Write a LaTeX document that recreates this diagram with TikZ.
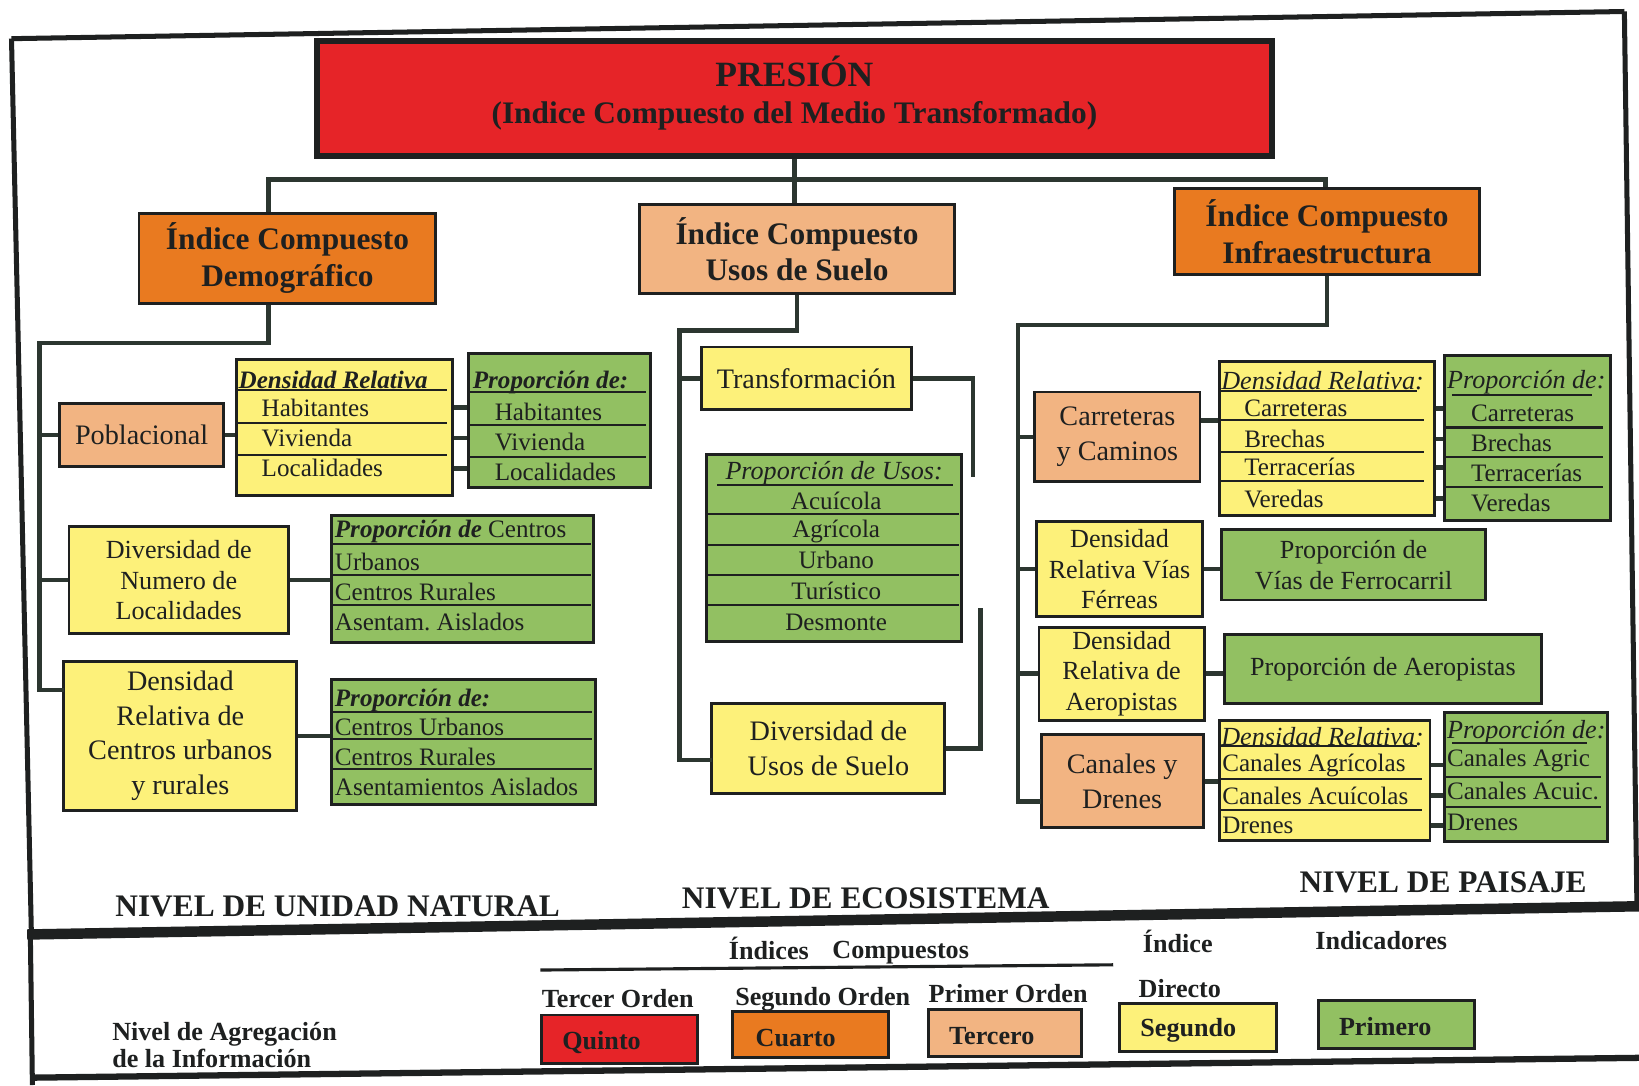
\documentclass[tikz,border=0pt]{standalone}
\usepackage{fontspec}
\setmainfont{Liberation Serif}
\usetikzlibrary{calc}
\frenchspacing

\definecolor{cRed}{RGB}{230,36,40}
\definecolor{cOrange}{RGB}{233,122,32}
\definecolor{cPeach}{RGB}{242,180,130}
\definecolor{cYellow}{RGB}{253,241,122}
\definecolor{cGreen}{RGB}{146,192,98}
\definecolor{cInk}{RGB}{30,32,32}
\definecolor{cWire}{RGB}{44,54,48}

\newcommand\fs[2]{\fontsize{#1}{#2}\selectfont}
% box given by its corners: style, name, x1, y1, x2, y2, text
\newcommand\bx[7]{%
  \node[#1, minimum width={(#5-#3)*0.5pt}, minimum height={(#6-#4)*0.5pt}]
    (#2) at ({(#3+#5)/2},{(#4+#6)/2}) {#7};}

\tikzset{
  box/.style={draw=cInk, line width=1.4pt, align=center, inner sep=0pt, text=cInk},
  hd/.style={font=\fs{15}{17.5}\bfseries},
  bd/.style={font=\fs{12.5}{14.5}},
  bdl/.style={font=\fs{13.5}{16.5}},
  wire/.style={draw=cWire, line width=2.2pt},
  rule/.style={draw=cInk, line width=1pt},
  cell/.style={anchor=west, inner sep=0pt, font=\fs{12}{14}, text=cInk},
  bihead/.style={cell, font=\fs{12}{14}\bfseries\itshape},
  ihead/.style={cell, font=\fs{12.5}{14}\itshape},
  frame/.style={draw=cInk, line width=2.4pt},
  lvl/.style={anchor=base west, inner sep=0pt, font=\fs{15}{17}\bfseries, text=cInk},
  leg/.style={anchor=base west, inner sep=0pt, font=\fs{12.5}{14}\bfseries, text=cInk},
}

\begin{document}
\begin{tikzpicture}[x=0.5pt, y=-0.5pt]
\useasboundingbox (0,0) rectangle (1568,1038);
\fill[white] (0,0) rectangle (1568,1038);

% ---------- outer frame ----------
\draw[frame] (11,37) -- (1554,11);
\draw[frame] (11,37) -- (30,892);
\draw[frame] (1554,11) -- (1566,866);
\draw[draw=cInk, line width=5pt] (26,894) -- (1568,867);
\draw[frame] (29,892) -- (31,1038);
\draw[draw=cInk, line width=3pt] (29,1031) -- (1568,1012);

% ---------- top level ----------
\bx{box, fill=cRed, line width=3pt}{pres}{303}{39}{1217}{149}{}
\node[hd, align=center, inner sep=0pt, text=cInk] (presT) at ($(pres.center)+(0,-5)$)
   {{\fs{17}{17.5}PRESIÓN}\\(Indice Compuesto del Medio Transformado)};
\bx{box, fill=cOrange, hd}{demo}{133}{204}{417}{290}{Índice Compuesto\\Demográfico}
\bx{box, fill=cPeach, hd}{usos}{612}{196}{913}{281}{Índice Compuesto\\Usos de Suelo}
\bx{box, fill=cOrange, hd}{infra}{1124}{180}{1415}{263}{Índice Compuesto\\Infraestructura}

\coordinate (barR) at (1268,172);
\draw[wire] (pres.south) -- (pres.south |- usos.north);
\draw[wire] ($(demo.north)+(-18,0)$) |- (barR) -- (barR |- infra.north);

% ---------- demographic branch ----------
\bx{box, fill=cPeach, bdl}{pob}{57}{386}{214}{446}{Poblacional}

\bx{box, fill=cYellow}{dr1}{226}{344}{433}{474}{}
\node[bihead] (dr1h) at (228,363) {Densidad Relativa};
\draw[rule] (226,373) -- (428,373);
\draw[rule] (226,405) -- (428,405);
\draw[rule] (226,435) -- (428,435);
\node[cell] (r1a) at (250,390) {Habitantes};
\node[cell] (r1b) at (250,419) {Vivienda};
\node[cell] (r1c) at (250,448) {Localidades};

\bx{box, fill=cGreen}{pd1}{448}{338}{622}{466}{}
\node[bihead] (pd1h) at (452,366) {Proporción de:};
\draw[rule] (448,375) -- (618,375);
\draw[rule] (448,406.5) -- (618,406.5);
\draw[rule] (448,437) -- (618,437);
\node[cell] at (473,394) {Habitantes};
\node[cell] at (473,423) {Vivienda};
\node[cell] at (473,451) {Localidades};

\bx{box, fill=cYellow, bd}{divnum}{66}{504}{276}{606}{Diversidad de\\Numero de\\Localidades}

\bx{box, fill=cGreen}{pc2}{317}{493}{568}{615}{}
\node[cell] (pc2h) at (320,508) {{\bfseries\itshape Proporción de} Centros};
\draw[rule] (317,520) -- (565,520);
\draw[rule] (317,550) -- (565,550);
\draw[rule] (317,579) -- (565,579);
\node[cell] at (320,538) {Urbanos};
\node[cell] at (320,566) {Centros Rurales};
\node[cell] at (320,595) {Asentam. Aislados};

\bx{box, fill=cYellow, bdl}{dencen}{61}{633}{284}{775}{Densidad\\Relativa de\\Centros urbanos\\y rurales}

\bx{box, fill=cGreen}{pc3}{317}{650}{570}{770}{}
\node[bihead] (pc3h) at (320,670) {Proporción de:};
\draw[rule] (317,681) -- (566,681);
\draw[rule] (317,707) -- (566,707);
\draw[rule] (317,736) -- (566,736);
\node[cell] at (320,695) {Centros Urbanos};
\node[cell] at (320,724) {Centros Rurales};
\node[cell] at (320,753) {Asentamientos Aislados};

\coordinate (tDL) at (38,328);
\coordinate (dcIn) at (61,660);
\draw[wire] ($(demo.south)+(-18,0)$) |- (tDL) |- (dcIn);
\draw[wire] (tDL |- pob.west) -- (pob.west);
\draw[wire] (tDL |- divnum.west) -- (divnum.west);
\draw[wire] (pob.east) -- (dr1.west |- pob.east);
\foreach \r in {r1a,r1b,r1c} \draw[wire] (dr1.east |- \r) -- (pd1.west |- \r);
\draw[wire] (divnum.east) -- (pc2.west |- divnum.east);
\draw[wire] (dencen.east) -- (pc3.west |- dencen.east);

% ---------- land-use branch ----------
\bx{box, fill=cYellow, bdl}{transf}{671}{332}{872}{392}{Transformación}

\bx{box, fill=cGreen}{pu}{676}{435}{920}{614}{}
\node[ihead, anchor=center] (puh) at (798,453) {Proporción de Usos:};
\draw[rule] (686,464) -- (912,464);
\draw[rule] (676,492) -- (917,492);
\draw[rule] (676,521) -- (917,521);
\draw[rule] (676,550) -- (917,550);
\draw[rule] (676,579) -- (917,579);
\node[cell, anchor=center] at (800,479) {Acuícola};
\node[cell, anchor=center] at (800,508) {Agrícola};
\node[cell, anchor=center] at (800,536) {Urbano};
\node[cell, anchor=center] at (800,565) {Turístico};
\node[cell, anchor=center] at (800,595) {Desmonte};

\bx{box, fill=cYellow, bdl}{divusos}{681}{673}{904}{759}{Diversidad de\\Usos de Suelo}

\coordinate (tU) at (650,316);
\coordinate (duIn) at (681,727);
\coordinate (tfEnd) at (931,456);
\coordinate (duEnd) at (938,582);
\draw[wire] (usos.south) |- (tU) |- (duIn);
\draw[wire] (tU |- transf.west) -- (transf.west);
\draw[wire] (transf.east) -| (tfEnd);
\draw[wire] (divusos.east) -| (duEnd);

% ---------- infrastructure branch ----------
\bx{box, fill=cPeach, bdl}{carr}{990}{375}{1148}{461}{Carreteras\\y Caminos}

\bx{box, fill=cYellow}{dr4}{1167}{346}{1372}{493}{}
\node[ihead] (dr4h) at (1168,364) {Densidad Relativa:};
\draw[rule] (1167,374) -- (1356,374);
\draw[rule] (1167,402) -- (1362,402);
\draw[rule] (1167,432) -- (1362,432);
\draw[rule] (1167,460) -- (1362,460);
\node[cell] (r4a) at (1190,391) {Carreteras};
\node[cell] (r4b) at (1190,420) {Brechas};
\node[cell] (r4c) at (1190,447) {Terracerías};
\node[cell] (r4d) at (1190,477) {Veredas};

\bx{box, fill=cGreen}{pd4}{1382}{340}{1541}{498}{}
\node[ihead] (pd4h) at (1384,366) {Proporción de:};
\draw[rule] (1389,378) -- (1523,378);
\draw[rule] (1382,409) -- (1534,409);
\draw[rule] (1382,437) -- (1534,437);
\draw[rule] (1382,466) -- (1534,466);
\node[cell] at (1407,395) {Carreteras};
\node[cell] at (1407,424) {Brechas};
\node[cell] at (1407,452) {Terracerías};
\node[cell] at (1407,481) {Veredas};

\bx{box, fill=cYellow, bd}{dvf}{992}{499}{1150}{590}{Densidad\\Relativa Vías\\Férreas}
\bx{box, fill=cGreen, bd}{pvf}{1169}{507}{1421}{574}{Proporción de\\Vías de Ferrocarril}
\bx{box, fill=cYellow, bd}{daer}{994}{600}{1152}{689}{Densidad\\Relativa de\\Aeropistas}
\bx{box, fill=cGreen, bd}{paer}{1171}{607}{1475}{673}{Proporción de Aeropistas}
\bx{box, fill=cPeach, bdl}{cand}{996}{703}{1151}{792}{Canales y\\Drenes}

\bx{box, fill=cYellow}{dr5}{1167}{689}{1368}{804}{}
\node[ihead] (dr5h) at (1168,705) {Densidad Relativa:};
\draw[rule] (1167,714) -- (1356,714);
\draw[rule] (1167,745) -- (1360,745);
\draw[rule] (1167,775) -- (1360,775);
\node[cell] (r5a) at (1169,732) {Canales Agrícolas};
\node[cell] (r5b) at (1169,761) {Canales Acuícolas};
\node[cell] (r5c) at (1169,790) {Drenes};

\bx{box, fill=cGreen}{pd5}{1382}{682}{1538}{805}{}
\node[ihead] (pd5h) at (1384,700) {Proporción de:};
\draw[rule] (1389,711) -- (1518,711);
\draw[rule] (1382,743) -- (1532,743);
\draw[rule] (1382,772) -- (1532,772);
\node[cell] at (1384,728) {Canales Agric};
\node[cell] at (1384,757) {Canales Acuic.};
\node[cell] at (1384,787) {Drenes};

\coordinate (tI) at (974,311);
\coordinate (cdIn) at (996,767);
\draw[wire] (infra.south) |- (tI) |- (cdIn);
\draw[wire] (tI |- carr.west) -- (carr.west);
\draw[wire] (tI |- dvf.west) -- (dvf.west);
\draw[wire] (tI |- daer.west) -- (daer.west);
\coordinate (c4) at ([yshift=8pt]carr.east);
\draw[wire] (c4) -- (c4 -| dr4.west);
\foreach \r in {r4a,r4b,r4c,r4d} \draw[wire] (dr4.east |- \r) -- (pd4.west |- \r);
\draw[wire] (dvf.east) -- (pvf.west |- dvf.east);
\draw[wire] (daer.east) -- (paer.west |- daer.east);
\draw[wire] (cand.east) -- (dr5.west |- cand.east);
\foreach \r in {r5a,r5b,r5c} \draw[wire] (dr5.east |- \r) -- (pd5.west |- \r);

% ---------- level labels ----------
\node[lvl] (lvUN) at (110,877) {NIVEL DE UNIDAD NATURAL};
\node[lvl] (lvEC) at (652,869) {NIVEL DE ECOSISTEMA};
\node[lvl] (lvPA) at (1243,854) {NIVEL DE PAISAJE};

% ---------- legend ----------
\node[leg] (lgA) at (697,918) {Índices};
\node[leg] (lgB) at (796,917) {Compuestos};
\draw[draw=cInk, line width=1.5pt] (517,928) -- (1065,923);
\node[leg] (lgC) at (1093,911) {Índice};
\node[leg] (lgD) at (1258,908) {Indicadores};
\node[leg] (lgE) at (518,964) {Tercer Orden};
\node[leg] (lgF) at (703,962) {Segundo Orden};
\node[leg] (lgG) at (888,959) {Primer Orden};
\node[leg] (lgH) at (1089,954) {Directo};
\node[leg] (lgI) at (107,995) {Nivel de Agregación};
\node[leg] (lgJ) at (107,1021) {de la Información};

\bx{box, fill=cRed}{kq}{518}{971}{667}{1017}{}
\bx{box, fill=cOrange}{kc}{701}{968}{850}{1012}{}
\bx{box, fill=cPeach}{kt}{888}{966}{1035}{1011}{}
\bx{box, fill=cYellow}{ks}{1071}{960}{1221}{1006}{}
\bx{box, fill=cGreen}{kp}{1261}{957}{1411}{1003}{}
\node[leg, anchor=west] at ($(kq.west)+(21,3)$) {Quinto};
\node[leg, anchor=west] at ($(kc.west)+(23,3)$) {Cuarto};
\node[leg, anchor=west] at ($(kt.west)+(21,3)$) {Tercero};
\node[leg, anchor=west] at ($(ks.west)+(21,3)$) {Segundo};
\node[leg, anchor=west] at ($(kp.west)+(21,2)$) {Primero};
\end{tikzpicture}
\end{document}
